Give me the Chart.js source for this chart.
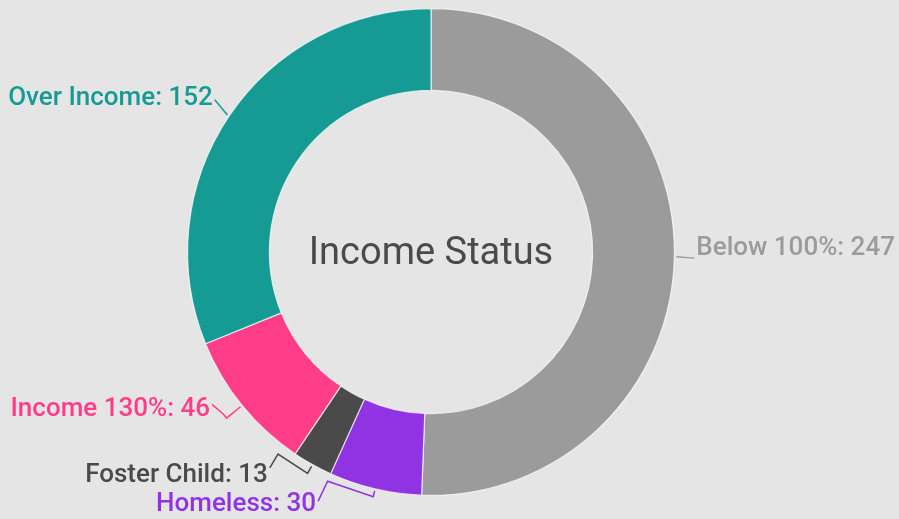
<!DOCTYPE html>
<html>
<head>
<meta charset="utf-8">
<script src="https://cdn.jsdelivr.net/npm/chart.js@4"></script>
<style>
  html, body { margin: 0; padding: 0; background: #e5e5e5; }
  #wrap { width: 899px; height: 519px; }
</style>
</head>
<body>
<div id="wrap"><canvas id="chart" width="899" height="519"></canvas></div>
<script>
const categories = ["Below 100%", "Homeless", "Foster Child", "Income 130%", "Over Income"]
const counts = [247, 30, 13, 46, 152]
const sliceColors = ["#9b9b9b", "#8f33e3", "#4a4a4a", "#ff3d88", "#169b94"]
const labelColors = ["#9b9b9b", "#8f33e3", "#4a4a4a", "#ff3d88", "#169b94"]
const centerTitle = "Income Status"

// Draws the outside labels with their leader lines
const outsideLabels = {
  id: "outsideLabels",
  afterDatasetsDraw(chart, args, opts) {
    const ctx = chart.ctx
    const meta = chart.getDatasetMeta(0)
    ctx.save()
    ctx.font = opts.font
    ctx.textBaseline = "alphabetic"
    meta.data.forEach((arc, i) => {
      const { x, y, startAngle, endAngle, outerRadius } = arc.getProps(
        ["x", "y", "startAngle", "endAngle", "outerRadius"], true)
      const mid = (startAngle + endAngle) / 2
      const cx = Math.cos(mid)
      const cy = Math.sin(mid)
      const nudge = opts.nudges[i] || [0, 0]
      const [elbowR, sweep, attachY] = opts.leaders[i]
      const ax = x + cx * (outerRadius + 22) + nudge[0]
      const ay = y + cy * (outerRadius + 22) + nudge[1]
      const right = cx >= 0
      const text = `${chart.data.labels[i]}: ${chart.data.datasets[0].data[i]}`

      // leader line: edge -> elbow -> along the ring -> label
      const r2 = outerRadius + elbowR
      const a2 = mid + (sweep * Math.PI) / 180
      ctx.strokeStyle = labelColors[i]
      ctx.lineWidth = 1.5
      ctx.beginPath()
      ctx.moveTo(x + cx * (outerRadius + 2), y + cy * (outerRadius + 2))
      ctx.lineTo(x + cx * r2, y + cy * r2)
      if (sweep) ctx.lineTo(x + Math.cos(a2) * r2, y + Math.sin(a2) * r2)
      ctx.lineTo(ax + (right ? -2 : 2), ay + attachY)
      ctx.stroke()

      ctx.fillStyle = labelColors[i]
      ctx.textAlign = right ? "left" : "right"
      ctx.fillText(text, ax, ay)
    })

    // title in the hole
    ctx.font = opts.titleFont
    ctx.fillStyle = "#4a4a4a"
    ctx.textAlign = "center"
    ctx.textBaseline = "middle"
    const a0 = meta.data[0]
    ctx.fillText(centerTitle, a0.x, a0.y + 2)
    ctx.restore()
  },
}

new Chart(document.getElementById("chart"), {
  type: "doughnut",
  data: {
    labels: categories,
    datasets: [
      {
        data: counts,
        backgroundColor: sliceColors,
        borderColor: "rgba(255, 255, 255, 0.7)",
        borderWidth: 1.2,
      },
    ],
  },
  options: {
    responsive: false,
    animation: false,
    cutout: "66.4%",
    layout: { padding: { top: 8, bottom: 23, left: 0, right: 37 } },
    plugins: {
      legend: { display: false },
      tooltip: { enabled: false },
      outsideLabels: {
        font: "500 26px Roboto",
        titleFont: "400 38px Roboto",
        nudges: [[0, -2], [-54, 1], [-34, -2], [-15, -3], [2, 1]],
        // [elbow offset px, sweep along ring deg, attach y vs baseline]
        leaders: [[2, 0, 3], [8, 11, -10], [10, 8, -14], [20, 1, -12], [2, 0, -5]],
      },
    },
  },
  plugins: [outsideLabels],
})
</script>
</body>
</html>
